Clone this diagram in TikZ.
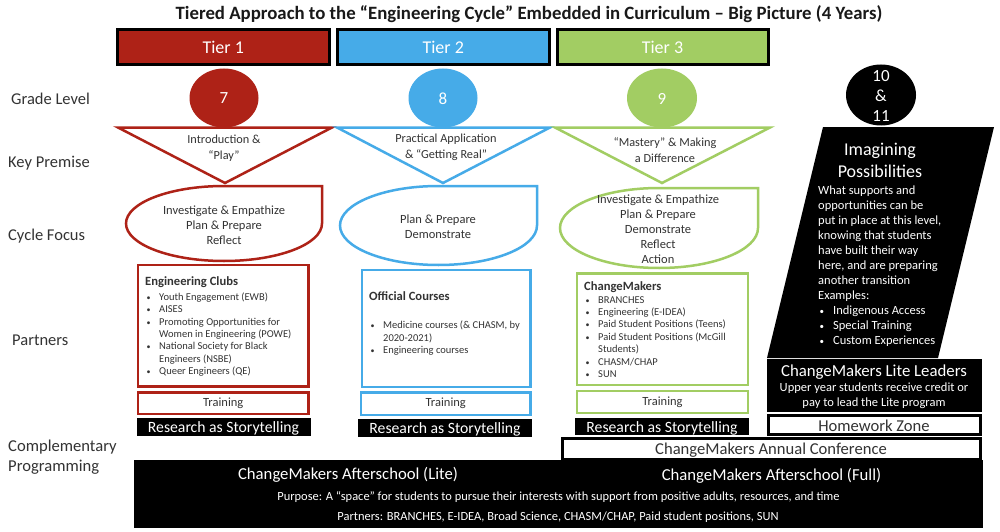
\documentclass[tikz,border=0pt]{standalone}
\usepackage{fontspec}
\setmainfont{Carlito}
\definecolor{tred}{HTML}{AE2217}
\definecolor{tblue}{HTML}{46ABE8}
\definecolor{tgreen}{HTML}{A2CD63}
\definecolor{ink}{HTML}{333333}
\newcommand{\fsz}[1]{\fontsize{#1}{#1}\selectfont}
\newcommand{\blist}[3]{\parbox[t]{#1}{\fontsize{#2}{12.4}\selectfont\raggedright #3}}
\newcommand{\bitem}[1]{\par\noindent\hangindent=14pt\hangafter=1\makebox[14pt][l]{\hspace{1.5pt}{\fontsize{8}{8}\selectfont •}}#1}
\tikzset{
 x=1pt,y=-1pt,
 tierbox/.style={draw=black,line width=3pt},
 tierlabel/.style={text=white,font=\fsz{18}},
 gradelabel/.style={text=white,font=\fsz{17}},
 sidelabel/.style={anchor=west,inner sep=0pt,text=ink,font=\fsz{16.5},align=left},
 premise/.style={line width=2.5pt,fill=white,line join=miter},
 body/.style={text=ink,font=\fsz{12},align=center,inner sep=0pt},
 listbox/.style={line width=2.6pt,fill=white},
 trainlabel/.style={text=ink,font=\fsz{12.5},inner sep=0pt},
 barlabel/.style={text=white,font=\fsz{15.7},inner sep=0pt},
 whitebar/.style={fill=white,draw=black,line width=3pt},
 listnode/.style={anchor=north west,inner sep=0pt,text=ink},
}
\newcommand{\dispshape}[5]{% colour, left, right, top, bottom
 \pgfmathsetmacro{\cx}{(#2+#3)/2}\pgfmathsetmacro{\rx}{(#3-#2)/2}\pgfmathsetmacro{\ry}{(#5-#4)/2}
 \draw[draw=#1,line width=2.5pt,fill=white] (#3,#4) -- (\cx,#4) arc[start angle=270,end angle=0,x radius=\rx,y radius=\ry] -- cycle;}
\begin{document}
\begin{tikzpicture}
\useasboundingbox (0,0) rectangle (1000,532);
\fill[white] (0,0) rectangle (1000,532);
\node[font=\bfseries\fsz{18.8},text=black!90,inner sep=0pt] (title) at (529,14.5) {Tiered Approach to the “Engineering Cycle” Embedded in Curriculum – Big Picture (4 Years)};

% tiers
\draw[tierbox,fill=tred] (117.5,29.5) rectangle (329,65) node[midway,tierlabel] (tier1) {Tier 1};
\draw[tierbox,fill=tblue] (337.5,29.5) rectangle (549,65) node[midway,tierlabel] (tier2) {Tier 2};
\draw[tierbox,fill=tgreen] (557,29.5) rectangle (768,65) node[midway,tierlabel] (tier3) {Tier 3};

% grades
\fill[tred] (224,98) ellipse[x radius=34.5,y radius=29.5];
\node[gradelabel] (g7) at (224,98.5) {7};
\fill[tblue] (443,98) ellipse[x radius=34.5,y radius=29.5];
\node[gradelabel] (g8) at (443,98.5) {8};
\fill[tgreen] (662,98) ellipse[x radius=35,y radius=29.5];
\node[gradelabel] (g9) at (662,98.5) {9};
\fill[black] (881,95) ellipse[x radius=35,y radius=30.5];
\node[gradelabel,align=center,inner sep=0pt,font=\fontsize{17}{20}\selectfont] (g10) at (881,96) {10\\\&\\11};

% side labels
\node[sidelabel] (lgrade) at (11,98.5) {Grade Level};
\node[sidelabel] (lkey) at (8,163) {Key Premise};
\node[sidelabel] (lcycle) at (8,236.5) {Cycle Focus};
\node[sidelabel] (lpart) at (12,340.5) {Partners};
\node[sidelabel,font=\fontsize{16.6}{19.5}\selectfont] (lcomp) at (8,457) {Complementary\\Programming};

% premises
\draw[premise,draw=tred] (118,127.5) -- (332,127.5) -- (225,183) -- cycle;
\draw[premise,draw=tblue] (337,127.5) -- (550,127.5) -- (443,183) -- cycle;
\draw[premise,draw=tgreen] (555,127.5) -- (770,127.5) -- (662,183) -- cycle;
\node[body,font=\fontsize{12.3}{15.5}\selectfont] (p1) at (224,148) {Introduction \&\\“Play”};
\node[body,font=\fontsize{12.3}{15.5}\selectfont] (p2) at (446,147.5) {Practical Application\\\& “Getting Real”};
\node[body,font=\fontsize{12.3}{15.5}\selectfont] (p3) at (665,150) {“Mastery” \& Making\\a Difference};

% cycle focus
\dispshape{tred}{126}{322}{186}{261}
\dispshape{tblue}{340}{537}{186}{265}
\dispshape{tgreen}{560}{758}{188}{268}
\node[body,font=\fontsize{12.5}{15}\selectfont] (c1) at (224,225.5) {Investigate \& Empathize\\Plan \& Prepare\\Reflect};
\node[body,font=\fontsize{12.5}{15}\selectfont] (c2) at (438,227) {Plan \& Prepare\\Demonstrate};
\node[body,font=\fontsize{12.5}{15}\selectfont] (c3) at (658,229.5) {Investigate \& Empathize\\Plan \& Prepare\\Demonstrate\\Reflect\\Action};

% partner boxes
\draw[listbox,draw=tred] (138,265) rectangle (308.5,386.5);
\draw[listbox,draw=tblue] (362,270) rectangle (530.5,387);
\draw[listbox,draw=tgreen] (577,273.5) rectangle (748,385);
\node[listnode] (l1a) at (145,276.5) {\blist{160pt}{10.5}{\textbf{\fsz{12.6}Engineering Clubs}}};
\node[listnode] (l1) at (145,292.5) {\blist{160pt}{10.5}{\bitem{Youth Engagement (EWB)}
 \bitem{AISES}
 \bitem{Promoting Opportunities for\newline Women in Engineering (POWE)}
 \bitem{National Society for Black\newline Engineers (NSBE)}
 \bitem{Queer Engineers (QE)}}};
\node[listnode] (l2a) at (369,291) {\blist{155pt}{10.5}{\textbf{\fsz{12.6}Official Courses}}};
\node[listnode] (l2b) at (369,321) {\blist{155pt}{10.5}{\bitem{Medicine courses (\& CHASM, by\newline 2020-2021)}
 \bitem{Engineering courses}}};
\node[listnode] (l3a) at (584,281.5) {\blist{160pt}{10.5}{\textbf{\fsz{12.6}ChangeMakers}}};
\node[listnode] (l3) at (584,296) {\blist{160pt}{10.5}{\bitem{BRANCHES}
 \bitem{Engineering (E-IDEA)}
 \bitem{Paid Student Positions (Teens)}
 \bitem{Paid Student Positions (McGill\newline Students)}
 \bitem{CHASM/CHAP}
 \bitem{SUN}}};

% training
\draw[listbox,draw=tred] (138,392.5) rectangle (308.5,414) node[midway,trainlabel] (tr1) {Training};
\draw[listbox,draw=tblue] (361,392.5) rectangle (530.5,415) node[midway,trainlabel] (tr2) {Training};
\draw[listbox,draw=tgreen] (577,391) rectangle (748,413) node[midway,trainlabel] (tr3) {Training};

% research
\fill[black] (137,418) rectangle (311,436);
\node[barlabel] (r1) at (223.5,428) {Research as Storytelling};
\fill[black] (358,419) rectangle (532,437);
\node[barlabel] (r2) at (445,429) {Research as Storytelling};
\fill[black] (575,418) rectangle (749,435);
\node[barlabel] (r3) at (662,428) {Research as Storytelling};

% imagining possibilities
\fill[black] (823,127) -- (994,127) -- (938,358) -- (767,358) -- cycle;
\node[text=white,font=\fontsize{18}{22}\selectfont,align=center,inner sep=0pt] (imag) at (880,160.5) {Imagining\\Possibilities};
\node[anchor=north west,inner sep=0pt,text=white,font=\fontsize{12.5}{15}\selectfont,align=left] (imagb) at (818,185.5) {What supports and\\opportunities can be\\put in place at this level,\\knowing that students\\have built their way\\here, and are preparing\\another transition\\Examples:\\\hspace{1.5pt}{\fontsize{9}{9}\selectfont •}\hspace{9pt}Indigenous Access\\\hspace{1.5pt}{\fontsize{9}{9}\selectfont •}\hspace{9pt}Special Training\\\hspace{1.5pt}{\fontsize{9}{9}\selectfont •}\hspace{9pt}Custom Experiences};

% lite leaders
\fill[black] (767,358.5) rectangle (982,412);
\node[text=white,font=\fsz{16.8},inner sep=0pt] (lite) at (874,372) {ChangeMakers Lite Leaders};
\node[text=white,font=\fontsize{12.5}{15}\selectfont,align=center,inner sep=0pt] (liteb) at (874,396) {Upper year students receive credit or\\pay to lead the Lite program};

% homework and conference
\draw[whitebar] (768.5,415.5) rectangle (980.5,434.5);
\node[text=ink,font=\fsz{16.6},inner sep=0pt] (hw) at (874,426) {Homework Zone};
\draw[whitebar] (562.5,438.5) rectangle (980.5,459);
\node[text=ink,font=\fsz{16.6},inner sep=0pt] (conf) at (771,450) {ChangeMakers Annual Conference};

% afterschool
\fill[black] (134,460) rectangle (983,528);
\node[text=white,font=\fsz{16.7},inner sep=0pt] (aslite) at (348,474.5) {ChangeMakers Afterschool (Lite)};
\node[text=white,font=\fsz{16.7},inner sep=0pt] (asfull) at (771.5,475.5) {ChangeMakers Afterschool (Full)};
\node[text=white,font=\fsz{12.45},inner sep=0pt] (aspur) at (558.5,497.5) {Purpose: A “space” for students to pursue their interests with support from positive adults, resources, and time};
\node[text=white,font=\fsz{12.45},inner sep=0pt] (aspar) at (558,517.5) {Partners: BRANCHES, E-IDEA, Broad Science, CHASM/CHAP, Paid student positions, SUN};
\end{tikzpicture}
\end{document}
